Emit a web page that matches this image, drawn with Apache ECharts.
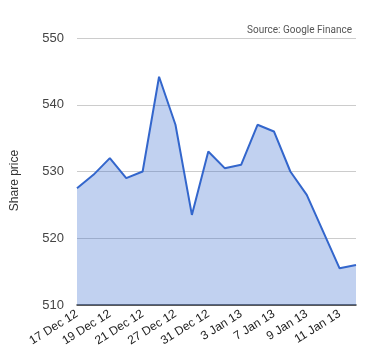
<!DOCTYPE html>
<html>
<head>
<meta charset="utf-8">
<script src="https://cdn.jsdelivr.net/npm/echarts@6/dist/echarts.min.js"></script>
<style>html,body{margin:0;padding:0;background:#fff}#c{width:380px;height:360px}</style>
</head>
<body>
<div id="c"></div>
<script>
const categories = ['17 Dec 12','18 Dec 12','19 Dec 12','20 Dec 12','21 Dec 12','24 Dec 12','27 Dec 12','28 Dec 12','31 Dec 12','2 Jan 13','3 Jan 13','4 Jan 13','7 Jan 13','8 Jan 13','9 Jan 13','10 Jan 13','11 Jan 13','14 Jan 13'];
const prices = [527.5, 529.5, 532.0, 529.0, 530.0, 544.2, 537.0, 523.5, 533.0, 530.5, 531.0, 537.0, 536.0, 530.0, 526.5, 521.0, 515.5, 516.0];
const yTicks = [510, 520, 530, 540, 550];
const sourceText = 'Source: Google Finance';
const yName = 'Share price';

const chart = echarts.init(document.getElementById('c'), null, {renderer: 'canvas'});
chart.setOption({
  animation: false,
  backgroundColor: '#fff',
  title: {
    text: sourceText,
    right: 23, top: 20,
    textStyle: {fontFamily: 'Roboto', fontSize: 10, fontWeight: 'normal', color: '#555'}
  },
  grid: {left: 77, right: 24, top: 38, bottom: 55, containLabel: false},
  xAxis: {
    type: 'category',
    data: categories,
    boundaryGap: false,
    axisLine: {show: true, lineStyle: {color: '#333', width: 1.5}},
    axisTick: {show: false},
    axisLabel: {interval: 1, rotate: 32, fontFamily: 'Arial', fontSize: 12, color: '#222', margin: 8},
    splitLine: {show: false}
  },
  yAxis: {
    type: 'value',
    min: yTicks[0], max: yTicks[yTicks.length - 1], interval: 10,
    name: yName,
    nameLocation: 'middle',
    nameRotate: 90,
    nameGap: 56,
    nameTextStyle: {fontFamily: 'Arial', fontSize: 12, color: '#333', padding: [0, 0, 0, -18]},
    axisLine: {show: false},
    axisTick: {show: false},
    axisLabel: {fontFamily: 'Arial', fontSize: 13, color: '#444', margin: 13},
    splitLine: {lineStyle: {color: '#ccc', width: 1}}
  },
  series: [{
    type: 'line',
    data: prices,
    symbol: 'none',
    lineStyle: {color: '#3366cc', width: 2},
    areaStyle: {color: '#3366cc', opacity: 0.3},
    z: 2
  }]
});
</script>
</body>
</html>
